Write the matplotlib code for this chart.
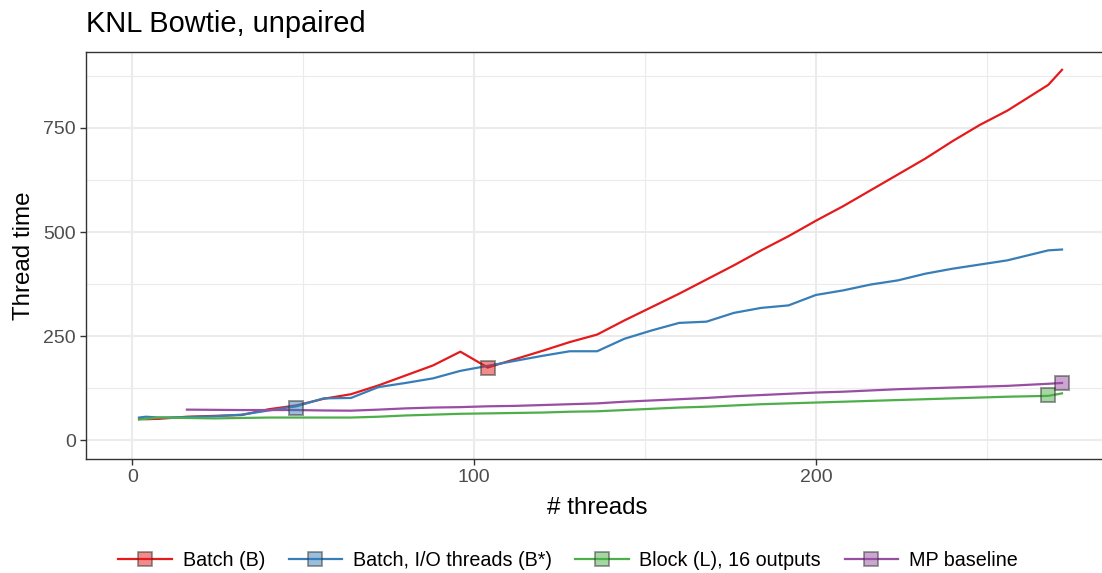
import matplotlib
matplotlib.use("Agg")
import matplotlib.pyplot as plt
from matplotlib.lines import Line2D
from matplotlib.ticker import MultipleLocator

plt.rcParams["font.family"] = ["Liberation Sans", "DejaVu Sans"]

# ---------------------------------------------
# thread counts and measured thread time
# ---------------------------------------------
threads = [2, 4, 8, 16, 24, 32, 40, 48, 56, 64, 72, 80, 88, 96, 104, 112,
           120, 128, 136, 144, 152, 160, 168, 176, 184, 192, 200, 208, 216,
           224, 232, 240, 248, 256, 268, 272]

batch = [52, 51, 52, 57, 59, 61, 75, 84, 100, 111, 132, 156, 180, 213, 175,
         195, 215, 236, 254, 288, 320, 352, 386, 420, 456, 490, 527, 562, 600,
         638, 676, 718, 757, 791, 853, 889]

batch_io = [55, 57, 55, 56, 58, 62, 72, 82, 101, 102, 128, 138, 149, 167,
            179, 191, 203, 214, 214, 244, 264, 282, 285, 306, 318, 324, 349,
            360, 374, 384, 400, 412, 422, 432, 456, 458]

block = [50, 52, 55, 54, 53, 54, 55, 55, 55, 55, 57, 60, 62, 64, 65, 66, 67,
         69, 70, 73, 76, 79, 81, 84, 87, 89, 91, 93, 95, 97, 99, 101, 103,
         105, 107, 113]

mp_threads = [16, 24, 32, 40, 48, 56, 64, 72, 80, 88, 96, 104, 112, 120, 128,
              136, 144, 152, 160, 168, 176, 184, 192, 200, 208, 216, 224, 232,
              240, 248, 256, 268, 272]
mp_base = [74, 73.5, 73, 73, 73, 72, 71.5, 74, 77, 79, 80, 82, 83, 85, 87,
           89, 93, 96, 99, 102, 106, 109, 112, 115, 117, 120, 123, 125, 127,
           129, 131, 136, 138]

# highlighted configuration per series
mark_x = [104, 48, 268, 272]
mark_y = [175, 78, 109, 138]

labels = ["Batch (B)", "Batch, I/O threads (B*)", "Block (L), 16 outputs",
          "MP baseline"]
palette = ["#E41A1C", "#377EB8", "#4DAF4A", "#984EA3"]

# ---------------------------------------------
# figure
# ---------------------------------------------
fig = plt.figure(figsize=(11.02, 5.73), dpi=100)
ax = fig.add_axes([85.7 / 1102, 1 - 459 / 573, (1108.5 - 85.7) / 1102, 407 / 573])

series = [(threads, batch), (threads, batch_io), (threads, block),
          (mp_threads, mp_base)]
for (xs, ys), col in zip(series, palette):
    ax.plot(xs, ys, color=col, lw=1.6, zorder=3, solid_joinstyle="miter")

for mx, my, col in zip(mark_x, mark_y, palette):
    ax.plot([mx], [my], marker="s", ms=10.5, mfc=col, mec="#333333",
            alpha=0.5, mew=1.4, ls="none", zorder=4)

ax.set_xlim(-13.6, 285.6)
ax.set_ylim(-44.4, 931.7)
ax.xaxis.set_major_locator(MultipleLocator(100))
ax.xaxis.set_minor_locator(MultipleLocator(50))
ax.yaxis.set_major_locator(MultipleLocator(250))
ax.yaxis.set_minor_locator(MultipleLocator(125))

ax.grid(which="major", color="#EBEBEB", lw=1.5, zorder=0)
ax.grid(which="minor", color="#EBEBEB", lw=0.8, zorder=0)
ax.set_axisbelow(True)

for sp in ax.spines.values():
    sp.set_color("#333333")
    sp.set_linewidth(1.0)

ax.tick_params(which="major", length=4, width=1.0, color="#333333",
               labelsize=14, labelcolor="#4D4D4D", pad=3)
ax.tick_params(which="minor", length=0)

ax.set_xlabel("# threads", fontsize=17.4, labelpad=8)
ax.set_ylabel("Thread time", fontsize=17.4, labelpad=6)

fig.text(85.7 / 1102, 1 - 32 / 573, "KNL Bowtie, unpaired", fontsize=20.9,
         ha="left", va="baseline")

handles = [Line2D([0], [0], color=c, lw=1.6, marker="s", ms=9.5,
                  mfc=matplotlib.colors.to_rgba(c, 0.5),
                  mec=(0.2, 0.2, 0.2, 0.55), mew=1.2)
           for c in palette]
fig.legend(handles, labels, loc="center", bbox_to_anchor=(568 / 1102, 1 - 560 / 573),
           ncol=4, frameon=False, fontsize=14.2, handlelength=2.7,
           handletextpad=0.55, columnspacing=1.2, borderaxespad=0)

fig.savefig("out.png", dpi=100)
